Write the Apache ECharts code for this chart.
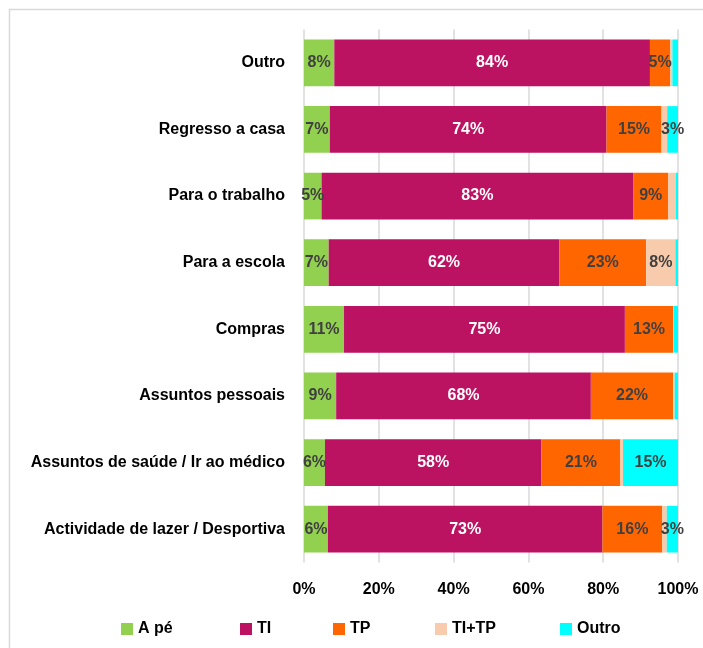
<!DOCTYPE html>
<html>
<head>
<meta charset="utf-8">
<script src="https://cdn.jsdelivr.net/npm/echarts@6/dist/echarts.min.js"></script>
<style>html,body{margin:0;padding:0;background:#fff;}#c{width:703px;height:648px;}</style>
</head>
<body>
<div id="c"></div>
<script>
// Categories, top to bottom
const categories = ["Outro", "Regresso a casa", "Para o trabalho", "Para a escola", "Compras", "Assuntos pessoais", "Assuntos de saúde / Ir ao médico", "Actividade de lazer / Desportiva"];
const seriesNames = ["A pé", "TI", "TP", "TI+TP", "Outro"];
const aPe   = [8.1, 6.9, 4.7, 6.6, 10.7, 8.6, 5.6, 6.4];
const ti    = [84.4, 74.0, 83.3, 61.7, 75.1, 68.1, 57.9, 73.4];
const tp    = [5.4, 14.7, 9.4, 23.2, 12.9, 22.0, 21.1, 16.0];
const tiTp  = [0.6, 1.5, 2.0, 7.8, 0.1, 0.4, 0.7, 1.2];
const outro = [1.5, 2.9, 0.6, 0.8, 1.2, 0.9, 14.7, 3.0];
const xTicks = [0, 20, 40, 60, 80, 100];

const colors = ["#92D050", "#BC1262", "#FF6600", "#F8CBAD", "#00FFFF"];
const labelColors = ["#404040", "#FFFFFF", "#404040", "#404040", "#404040"];
const values = [aPe, ti, tp, tiTp, outro];
const FONT = "'Liberation Sans', Arial, sans-serif";

const chart = echarts.init(document.getElementById('c'), null, {renderer: 'canvas'});
const legendLefts = [116, 235, 328, 430, 555];

const option = {
  animation: false,
  backgroundColor: '#fff',
  graphic: [{
    type: 'rect', shape: {x: 9.5, y: 9.5, width: 800, height: 800},
    style: {fill: 'none', stroke: '#D9D9D9', lineWidth: 1.5}, silent: true, z: -1
  }],
  grid: {left: 304, right: 25, top: 29.5, bottom: 85.5, containLabel: false},
  xAxis: {
    type: 'value', min: xTicks[0], max: xTicks[xTicks.length - 1], interval: 20,
    axisLine: {show: false}, axisTick: {show: false},
    splitLine: {show: true, lineStyle: {color: '#D9D9D9', width: 1.5}},
    axisLabel: {formatter: '{value}%', color: '#000', fontFamily: FONT, fontWeight: 'bold', fontSize: 16, margin: 19}
  },
  yAxis: {
    type: 'category', data: categories, inverse: true,
    axisLine: {show: false}, axisTick: {show: false},
    axisLabel: {color: '#000', fontFamily: FONT, fontWeight: 'bold', fontSize: 16, margin: 19}
  },
  legend: seriesNames.map((n, i) => ({
    data: [n], left: legendLefts[i], top: 616, itemWidth: 12, itemHeight: 12, itemGap: 5,
    icon: 'rect', textStyle: {color: '#000', fontFamily: FONT, fontWeight: 'bold', fontSize: 16}
  })),
  series: seriesNames.map((n, i) => ({
    name: n, type: 'bar', stack: 'total', barWidth: '70%',
    data: values[i],
    itemStyle: {color: colors[i]},
    label: {
      show: true, position: 'inside',
      color: labelColors[i], fontFamily: FONT, fontWeight: 'bold', fontSize: 16,
      formatter: p => { const r = Math.round(p.value); return r >= 3 ? r + '%' : ''; }
    }
  }))
};
chart.setOption(option);
</script>
</body>
</html>
